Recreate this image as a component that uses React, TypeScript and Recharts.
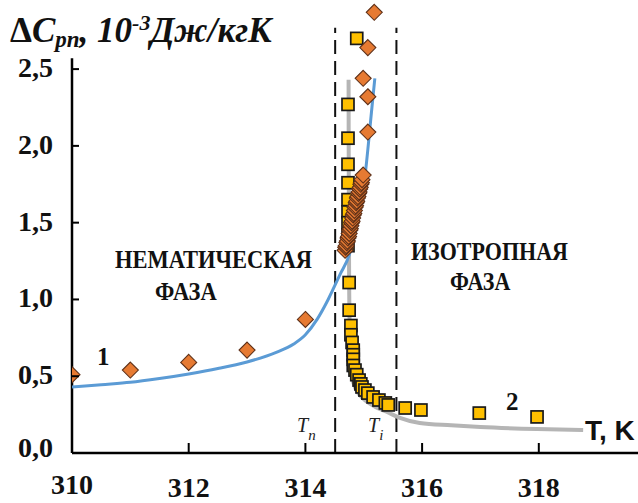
import React from 'react'
import { ComposedChart, Line, Scatter, XAxis, YAxis, ReferenceLine } from 'recharts'

// series 1 – nematic phase (diamonds)
const nematicT = [310, 311, 312, 313, 314,
  314.68, 314.69, 314.7, 314.71, 314.72, 314.73, 314.74, 314.75, 314.76, 314.77, 314.78, 314.79, 314.8, 314.81, 314.82,
  314.83, 314.84, 314.85, 314.86, 314.87, 314.88, 314.89, 314.9, 314.91, 314.92, 314.93, 314.94, 314.95, 314.96, 314.97, 314.99,
  315.07, 315.07, 314.99, 315.07, 315.18]
const nematicCp = [0.51, 0.54, 0.59, 0.67, 0.87,
  1.32, 1.34, 1.35, 1.37, 1.38, 1.4, 1.41, 1.43, 1.45, 1.46, 1.48, 1.5, 1.51, 1.53, 1.55,
  1.56, 1.58, 1.6, 1.61, 1.63, 1.64, 1.66, 1.67, 1.69, 1.7, 1.72, 1.73, 1.75, 1.76, 1.78, 1.81,
  2.09, 2.32, 2.44, 2.64, 2.87]

// series 2 – isotropic phase (squares)
const isoT = [314.88, 314.73, 314.73, 314.73, 314.73, 314.73, 314.73, 314.73, 314.73, 314.73, 314.75, 314.75, 314.78, 314.78, 314.8, 314.82, 314.82, 314.82, 314.82, 314.85, 314.88, 314.92, 314.95, 314.97, 315.02, 315.07, 315.16, 315.26, 315.37, 315.42, 315.71, 315.98, 316.98, 317.97]
const isoCp = [2.7, 2.27, 2.05, 1.88, 1.76, 1.65, 1.57, 1.5, 1.42, 1.35, 1.11, 0.93, 0.83, 0.77, 0.72, 0.67, 0.64, 0.61, 0.57, 0.54, 0.51, 0.475, 0.45, 0.43, 0.41, 0.39, 0.365, 0.345, 0.326, 0.313, 0.293, 0.28, 0.26, 0.235]

// fitted curves
const fit1T = [310, 310.5, 311, 311.5, 312, 312.5, 313, 313.5, 313.8, 314, 314.2, 314.39, 314.59, 314.76, 314.9, 315.02, 315.14, 315.19]
const fit1Cp = [0.43, 0.445, 0.46, 0.485, 0.515, 0.55, 0.593, 0.655, 0.71, 0.77, 0.87, 1.0, 1.16, 1.3, 1.53, 1.8, 2.25, 2.44]
const fit2T = [314.74, 314.742, 314.745, 314.75, 314.76, 314.775, 314.8, 314.86, 314.95, 315.05, 315.2, 315.4, 315.62, 315.96, 316.5, 317, 317.97, 318.76]
const fit2Cp = [2.43, 1.97, 1.5, 1.1, 0.8, 0.62, 0.5, 0.42, 0.37, 0.335, 0.3, 0.267, 0.228, 0.195, 0.18, 0.169, 0.156, 0.15]

const xTicks = [310, 312, 314, 316, 318]
const yTicks = [0, 0.5, 1, 1.5, 2, 2.5]
const Tn = 314.51
const Ti = 315.56

const zip = (ts: number[], vs: number[]) => ts.map((t, i) => ({ t, v: vs[i] }))

const SERIF = "'Liberation Serif', 'Times New Roman', serif"

const Diamond = (props: any) => {
  const { cx, cy } = props
  const r = 8
  return (
    <polygon
      points={`${cx},${cy - r} ${cx + r},${cy} ${cx},${cy + r} ${cx - r},${cy}`}
      fill="#E67A32"
      stroke="#5E3018"
      strokeWidth={1.1}
    />
  )
}

const Square = (props: any) => {
  const { cx, cy } = props
  return <rect x={cx - 6} y={cy - 6} width={12} height={12} fill="#FFC000" stroke="#1a1a1a" strokeWidth={1.7} />
}

const XTick = (props: any) => {
  const { x, y, payload } = props
  return (
    <g>
      {payload.value !== 310 && <line x1={x} y1={y} x2={x} y2={y - 10} stroke="#000" strokeWidth={2} />}
      <text x={x} y={payload.value === 310 ? y + 41 : y + 44} textAnchor="middle" fontFamily={SERIF} fontWeight="bold" fontSize={28} fill="#111">
        {payload.value}
      </text>
    </g>
  )
}

const YTick = (props: any) => {
  const { x, y, payload } = props
  const v = payload.value as number
  return (
    <g>
      {v !== 0 && <line x1={x} y1={y} x2={x + 7} y2={y} stroke="#000" strokeWidth={2} />}
      <text x={x - 19} y={v === 0 ? y + 4 : y + 8} textAnchor="end" fontFamily={SERIF} fontWeight="bold" fontSize={28} fill="#111">
        {v.toFixed(1).replace('.', ',')}
      </text>
    </g>
  )
}

export default function App() {
  return (
    <div style={{ position: 'relative', width: 638, height: 503, background: '#fff' }}>
      <style>{'body{margin:0}'}</style>
      <ComposedChart width={638} height={503} margin={{ top: 0, right: 0, bottom: 0, left: 0 }}>
        <XAxis
          type="number"
          dataKey="t"
          domain={[310, 319.7]}
          ticks={xTicks}
          allowDataOverflow
          height={50}
          tickSize={0}
          tickMargin={0}
          tickLine={false}
          axisLine={{ stroke: '#000', strokeWidth: 2.5 }}
          tick={<XTick />}
        />
        <YAxis
          type="number"
          dataKey="v"
          domain={[0, 2.95]}
          ticks={yTicks}
          allowDataOverflow
          width={72}
          tickSize={0}
          tickMargin={0}
          tickLine={false}
          axisLine={false}
          tick={<YTick />}
        />

        {/* y axis line stops just above 2,5 */}
        <ReferenceLine segment={[{ x: 310, y: 0 }, { x: 310, y: 2.57 }]} stroke="#000" strokeWidth={2.5} />

        {/* transition temperatures */}
        <ReferenceLine segment={[{ x: Tn, y: 0 }, { x: Tn, y: 2.77 }]} stroke="#111" strokeWidth={2} strokeDasharray="14 7" />
        <ReferenceLine segment={[{ x: Ti, y: 0 }, { x: Ti, y: 2.77 }]} stroke="#111" strokeWidth={2} strokeDasharray="14 7" />

        <Line data={zip(fit2T, fit2Cp)} dataKey="v" type="monotone" stroke="#B5B5B5" strokeWidth={4} dot={false} isAnimationActive={false} />
        <Line data={zip(fit1T, fit1Cp)} dataKey="v" type="monotone" stroke="#5B9BD5" strokeWidth={3} dot={false} isAnimationActive={false} />
        <Scatter data={zip(isoT, isoCp)} dataKey="v" shape={<Square />} isAnimationActive={false} />
        <Scatter data={zip(nematicT, nematicCp)} dataKey="v" shape={<Diamond />} isAnimationActive={false} />
      </ComposedChart>

      <svg width={638} height={503} style={{ position: 'absolute', left: 0, top: 0, pointerEvents: 'none' }}>
        <text x={10} y={42} fontFamily={SERIF} fontWeight="bold" fontSize={35} fill="#111">
          <tspan>Δ</tspan>
          <tspan fontStyle="italic">C</tspan>
          <tspan fontStyle="italic" fontSize={23} dy={5}>рп</tspan>
          <tspan fontStyle="italic" dy={-5}>, 10</tspan>
          <tspan fontStyle="italic" fontSize={22} dy={-12}>-3</tspan>
          <tspan fontStyle="italic" dy={12}>Дж/кгК</tspan>
        </text>
        <g fontFamily={SERIF} fontWeight="bold" fill="#111">
          <text transform="translate(115,268) scale(1,1.13)" fontSize={22.5}>НЕМАТИЧЕСКАЯ</text>
          <text transform="translate(155,300) scale(1,1.13)" fontSize={22.5}>ФАЗА</text>
          <text transform="translate(411,260) scale(1,1.13)" fontSize={22}>ИЗОТРОПНАЯ</text>
          <text transform="translate(450,290) scale(1,1.13)" fontSize={22}>ФАЗА</text>
          <text x={97} y={365} fontSize={25}>1</text>
          <text x={506} y={410} fontSize={25}>2</text>
        </g>
        <g fontFamily={SERIF} fontStyle="italic" fill="#222">
          <text x={297} y={432} fontSize={20}>
            T<tspan fontSize={15} dy={8}>n</tspan>
          </text>
          <text x={368} y={432} fontSize={20}>
            T<tspan fontSize={15} dy={8}>i</tspan>
          </text>
        </g>
        <text x={585} y={440} fontFamily="'Liberation Sans', Arial, sans-serif" fontWeight="bold" fontSize={28} fill="#111">
          T, K
        </text>
      </svg>
    </div>
  )
}
